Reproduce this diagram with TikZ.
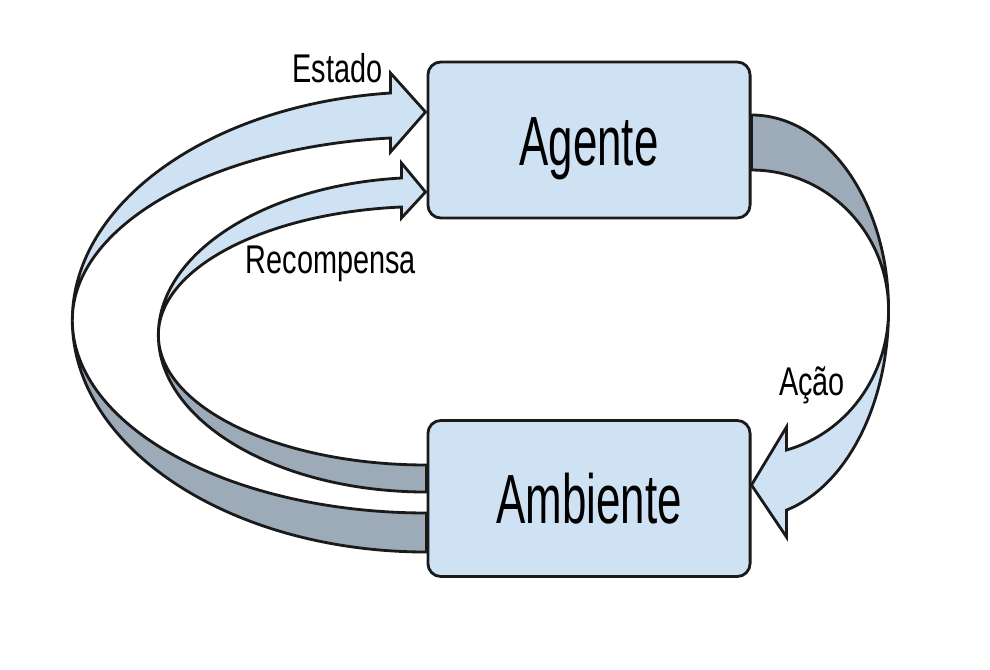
\documentclass[tikz,border=0pt]{standalone}
\usepackage{fontspec}
\usepackage{xcolor}
\usepackage{tikz}
\usetikzlibrary{calc,backgrounds}
\newfontfamily\boxfont[FakeStretch=0.63]{Liberation Sans}
\newfontfamily\tagfont[FakeStretch=0.72]{Liberation Sans}
\definecolor{boxblue}{HTML}{CFE2F3}
\definecolor{shadeblue}{HTML}{9DAAB8}
\definecolor{edgegray}{HTML}{1A1A1A}

\begin{document}
\begin{tikzpicture}[x=0.01cm,y=0.01cm,
  box/.style={draw=edgegray,line width=0.8pt,fill=boxblue,rounded corners=3.7pt,
    minimum width=3.22cm,minimum height=1.56cm,text height=14.3pt,text depth=0pt,
    font=\boxfont\fontsize{19.8}{22}\selectfont},
  tag/.style={anchor=base,inner sep=0pt,font=\tagfont\fontsize{11.4}{13}\selectfont},
  frontside/.style={draw=edgegray,line width=0.8pt,fill=boxblue},
  backside/.style={draw=edgegray,line width=0.8pt,fill=shadeblue}]
\useasboundingbox (0,0) rectangle (990,669);
\node[box] (agente) at (589,529) {Agente};
\node[box] (ambiente) at (589,170.5) {Ambiente};
\node[tag] (estado) at (337.5,587) {Estado};
\node[tag] (recompensa) at (331,396) {Recompensa};
\node[tag] (acao) at (812,274) {Ação};
\begin{scope}[on background layer]
\filldraw[backside] ($(ambiente.west)+(0,-14.5)$)
  arc[start angle=270,end angle=180,x radius=3.54cm,y radius=1.93cm]
  arc[start angle=180,end angle=270,x radius=3.54cm,y radius=2.32cm] -- cycle;
\filldraw[frontside] ($(agente.west)+(-1,28)$) -- ($(agente.west)+(-36,-12)$) -- ($(agente.west)+(-36,2)$)
  arc[start angle=95.84,end angle=180,x radius=3.54cm,y radius=1.83cm]
  arc[start angle=180,end angle=95.84,x radius=3.54cm,y radius=2.282cm]
  -- ($(agente.west)+(-36,67)$) -- cycle;
\filldraw[backside] ($(ambiente.west)+(0,33.5)$)
  arc[start angle=270,end angle=180,x radius=2.68cm,y radius=1.30cm]
  arc[start angle=180,end angle=270,x radius=2.68cm,y radius=1.57cm] -- cycle;
\filldraw[frontside] ($(agente.west)+(-1,-52)$) -- ($(agente.west)+(-25,-78)$) -- ($(agente.west)+(-25,-67)$)
  arc[start angle=95.35,end angle=180,x radius=2.68cm,y radius=1.286cm]
  arc[start angle=180,end angle=95.35,x radius=2.68cm,y radius=1.577cm]
  -- ($(agente.west)+(-25,-23)$) -- cycle;
\filldraw[backside] ($(agente.east)+(0,25)$)
  arc[start angle=90,end angle=0,x radius=1.37cm,y radius=1.95cm]
  arc[start angle=0,end angle=90,x radius=1.37cm,y radius=1.40cm] -- cycle;
\filldraw[frontside] ($(ambiente.east)+(0,13.5)$) -- ($(ambiente.east)+(35,71.5)$) -- ($(ambiente.east)+(35,48.5)$)
  arc[start angle=-75.2,end angle=0,x radius=1.37cm,y radius=1.448cm]
  arc[start angle=0,end angle=-75.2,x radius=1.37cm,y radius=2.069cm]
  -- ($(ambiente.east)+(35,-38.5)$) -- cycle;
\end{scope}
\end{tikzpicture}
\end{document}
